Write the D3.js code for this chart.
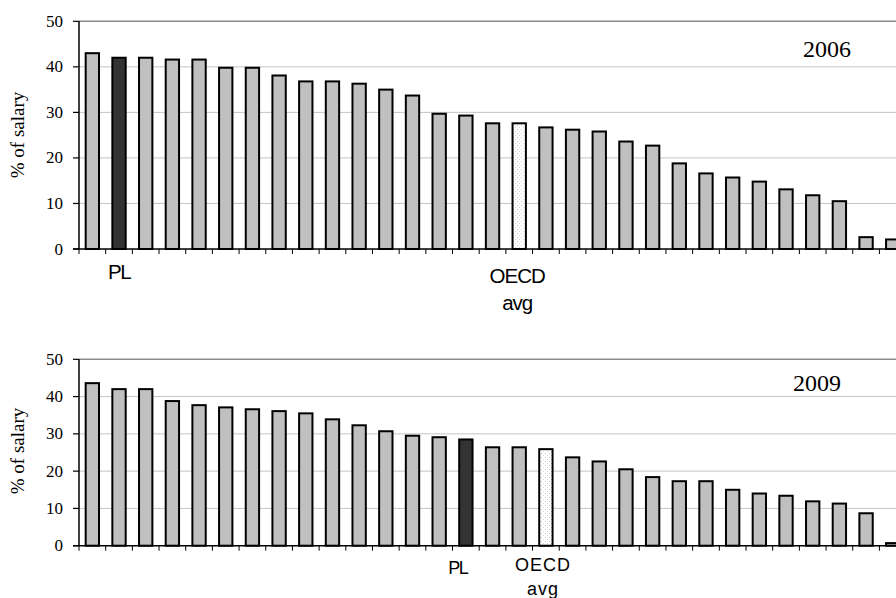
<!DOCTYPE html>
<html>
<head>
<meta charset="utf-8">
<script src="https://cdn.jsdelivr.net/npm/d3@7"></script>
<style>
  html, body { margin: 0; padding: 0; background: #fff; }
  svg { display: block; }
</style>
</head>
<body>
<svg id="chart" width="896" height="598"></svg>
<script>
// ---- data ----
const values2006 = [43.0, 42.0, 42.0, 41.6, 41.6, 39.8, 39.8, 38.1, 36.8, 36.8, 36.3, 35.0, 33.7, 29.7, 29.3, 27.6, 27.6, 26.7, 26.2, 25.8, 23.6, 22.7, 18.8, 16.6, 15.7, 14.8, 13.1, 11.8, 10.5, 2.6, 2.1];
const kinds2006  = ["o","pl","o","o","o","o","o","o","o","o","o","o","o","o","o","o","oecd","o","o","o","o","o","o","o","o","o","o","o","o","o","o"];
const values2009 = [43.6, 42.0, 42.0, 38.8, 37.7, 37.1, 36.6, 36.1, 35.5, 33.9, 32.3, 30.7, 29.5, 29.1, 28.5, 26.4, 26.4, 25.9, 23.7, 22.6, 20.5, 18.4, 17.3, 17.3, 15.0, 14.0, 13.4, 11.9, 11.3, 8.7, 0.7];
const kinds2009  = ["o","o","o","o","o","o","o","o","o","o","o","o","o","o","pl","o","o","oecd","o","o","o","o","o","o","o","o","o","o","o","o","o"];
const yTicks = [0, 10, 20, 30, 40, 50];
const yLabel = "% of salary";

const svg = d3.select("#chart");
const defs = svg.append("defs");
const pat = defs.append("pattern").attr("id", "dots").attr("patternUnits", "userSpaceOnUse")
  .attr("width", 4).attr("height", 4);
pat.append("rect").attr("width", 4).attr("height", 4).attr("fill", "#fff");
pat.append("rect").attr("x", 1).attr("y", 1).attr("width", 1).attr("height", 1).attr("fill", "#c8c8c8");
pat.append("rect").attr("x", 3).attr("y", 3).attr("width", 1).attr("height", 1).attr("fill", "#d8d8d8");

const fills = { o: "#c0c0c0", pl: "#333333", oecd: "url(#dots)" };

function panel(cfg) {
  const n = cfg.values.length;
  const idx = d3.range(n);
  const left = 79, step = 26.68;
  const x = d3.scaleBand().domain(idx).range([left, left + n * step]).paddingInner(0.5).paddingOuter(0.25);
  const xEdges = d3.scaleBand().domain(idx).range([left, left + n * step]).padding(0);
  const y = d3.scaleLinear().domain([0, 50]).range([cfg.y0, cfg.y50]);
  const g = svg.append("g");

  // gridlines
  g.selectAll(".grid").data(yTicks.filter(t => t > 0 && t < 50)).join("line")
    .attr("x1", left).attr("x2", 896).attr("y1", d => y(d)).attr("y2", d => y(d))
    .attr("stroke", "#c4c4c4").attr("stroke-width", 1);
  g.append("line").attr("x1", left).attr("x2", 896).attr("y1", y(50)).attr("y2", y(50))
    .attr("stroke", "#8c8c8c").attr("stroke-width", 1.6);

  // bars
  g.selectAll(".bar").data(idx).join("rect")
    .attr("x", i => x(i)).attr("width", x.bandwidth())
    .attr("y", i => y(cfg.values[i])).attr("height", i => y(0) - y(cfg.values[i]))
    .attr("fill", i => fills[cfg.kinds[i]])
    .attr("stroke", "#000").attr("stroke-width", 2);

  // x axis line and ticks
  g.append("line").attr("x1", 73).attr("x2", 896).attr("y1", y(0)).attr("y2", y(0))
    .attr("stroke", "#000").attr("stroke-width", 1.5);
  g.selectAll(".xt").data(idx).join("line")
    .attr("x1", i => xEdges(i)).attr("x2", i => xEdges(i))
    .attr("y1", y(0)).attr("y2", y(0) + 5)
    .attr("stroke", "#000").attr("stroke-width", 1);

  // y axis
  g.append("line").attr("x1", left).attr("x2", left).attr("y1", y(0)).attr("y2", y(50))
    .attr("stroke", "#000").attr("stroke-width", 1.5);
  g.selectAll(".yt").data(yTicks).join("line")
    .attr("x1", 73).attr("x2", left).attr("y1", d => y(d)).attr("y2", d => y(d))
    .attr("stroke", "#000").attr("stroke-width", 1.2);
  g.selectAll(".yl").data(yTicks).join("text")
    .attr("x", 63).attr("y", d => y(d) + 5.5)
    .attr("text-anchor", "end")
    .attr("font-family", "'Liberation Serif', 'Times New Roman', serif")
    .attr("font-size", 17).attr("fill", "#000")
    .text(d => d);

  g.append("text")
    .attr("transform", `translate(24,${cfg.labelY}) rotate(-90)`)
    .attr("text-anchor", "middle")
    .attr("font-family", "'Liberation Serif', 'Times New Roman', serif")
    .attr("font-size", 19).attr("fill", "#000")
    .text(yLabel);

  // year label
  g.append("text").attr("x", cfg.yearX).attr("y", cfg.yearY)
    .attr("font-family", "'Liberation Serif', 'Times New Roman', serif")
    .attr("font-size", 24).attr("fill", "#000")
    .text(cfg.year);

  // category labels
  const sans = "'Liberation Sans', Arial, sans-serif";
  const plI = cfg.kinds.indexOf("pl"), oeI = cfg.kinds.indexOf("oecd");
  g.append("text").attr("x", x(plI) + x.bandwidth() / 2 + cfg.plDx).attr("y", cfg.plY)
    .attr("text-anchor", "middle").attr("font-family", sans).attr("font-size", cfg.fs)
    .attr("letter-spacing", -1.5).attr("fill", "#000").text("PL");
  g.append("text").attr("x", x(oeI) + x.bandwidth() / 2 + cfg.oeDx).attr("y", cfg.oeY)
    .attr("text-anchor", "middle").attr("font-family", sans).attr("font-size", cfg.fs)
    .attr("letter-spacing", cfg.ls).attr("fill", "#000").text("OECD");
  g.append("text").attr("x", x(oeI) + x.bandwidth() / 2 + cfg.oeDx).attr("y", cfg.avgY)
    .attr("text-anchor", "middle").attr("font-family", sans).attr("font-size", cfg.fs)
    .attr("letter-spacing", cfg.ls).attr("fill", "#000").text("avg");
}

panel({ values: values2006, kinds: kinds2006, y0: 249, y50: 21.3, labelY: 135, year: "2006",
  yearX: 803, yearY: 57, plY: 279, oeY: 283, avgY: 310, plDx: 0, oeDx: -2, fs: 20.5, ls: -1 });
panel({ values: values2009, kinds: kinds2009, y0: 545.7, y50: 359.3, labelY: 451, year: "2009",
  yearX: 793, yearY: 391, plY: 574, oeY: 571, avgY: 595, plDx: -8, oeDx: -3, fs: 18, ls: 1 });
</script>
</body>
</html>
